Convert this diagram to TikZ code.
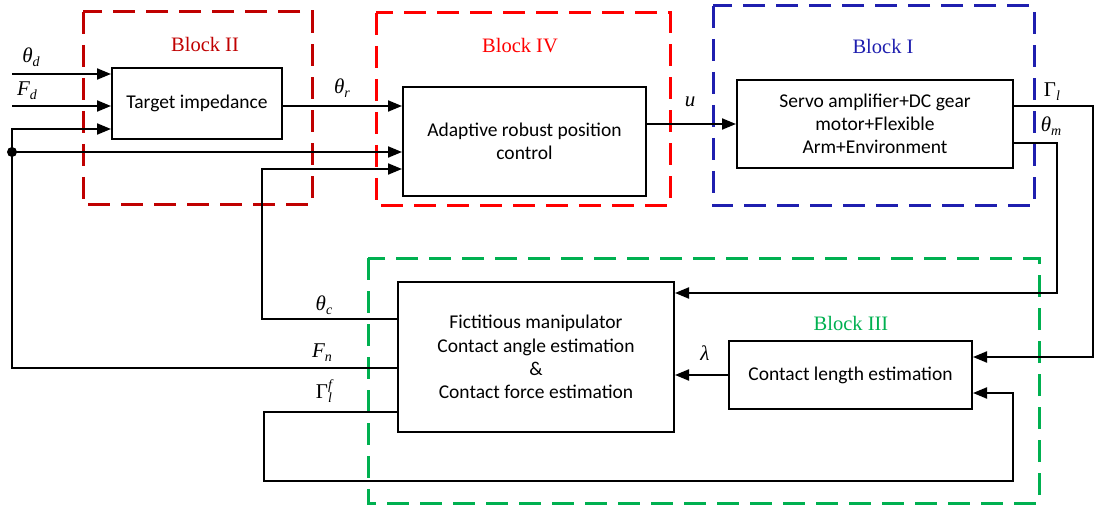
\documentclass[tikz,border=0pt]{standalone}
\usepackage{fontspec}
\setmainfont{Liberation Serif}
\newfontfamily\boxfont{Carlito}
\usetikzlibrary{arrows.meta}
\definecolor{blkII}{HTML}{C00000}
\definecolor{blkIV}{HTML}{FF0000}
\definecolor{blkI}{HTML}{1F1FAF}
\definecolor{blkIII}{HTML}{00B050}
\newcommand{\sym}[3]{{\fontsize{21}{21}\selectfont #1\rlap{\raisebox{0.45em}{\fontsize{14}{14}\selectfont\itshape #3}}\raisebox{-0.2em}{\fontsize{14}{14}\selectfont\itshape #2}}}
\begin{document}
\begin{tikzpicture}[x=1pt,y=-1pt,
  blk/.style={draw, line width=2pt, inner sep=0pt, align=center,
    font=\boxfont\fontsize{19.5}{23.3}\selectfont},
  sig/.style={line width=2pt},
  arr/.style={sig, -{Triangle[length=14pt,width=11pt]}},
  region/.style={line width=3pt, dash pattern=on 22pt off 11pt},
  lab/.style={inner sep=0pt},
  blab/.style={inner sep=0pt, font=\fontsize{20.5}{20.5}\selectfont}]
\useasboundingbox (0,0) rectangle (1096,508);

% dashed regions
\draw[region, blkII] (83,12) rectangle (312,205);
\draw[region, blkIV] (376,13) rectangle (670,206);
\draw[region, blkI] (713,6) rectangle (1034,206);
\draw[region, blkIII] (368,258) rectangle (1039,503);
\node[blab, text=blkII] (tII) at (205,44) {Block II};
\node[blab, text=blkIV] (tIV) at (520,46) {Block IV};
\node[blab, text=blkI] (tI) at (883,46) {Block I};
\node[blab, text=blkIII] (tIII) at (851,323) {Block III};

% blocks
\node[blk, minimum width=170pt, minimum height=71pt] (ti) at (197,103.5) {Target impedance};
\node[blk, minimum width=243pt, minimum height=109pt] (arp) at (524.5,141.5) {Adaptive robust position\\control};
\node[blk, minimum width=276pt, minimum height=88pt] (sv) at (875,124) {Servo amplifier+DC gear\\motor+Flexible\\Arm+Environment};
\node[blk, minimum width=276pt, minimum height=150pt] (fm) at (536,357) {Fictitious manipulator\\Contact angle estimation\\\&\\Contact force estimation};
\node[blk, minimum width=243pt, minimum height=68pt] (cl) at (850.5,375) {Contact length estimation};

% reference inputs
\coordinate (thd) at (12,74);
\coordinate (fd) at (12,106);
\draw[arr] (thd) -- (thd -| ti.west);
\draw[arr] (fd) -- (fd -| ti.west);

% feedback of the contact force
\coordinate (jn) at (12,152);
\coordinate (fbt) at (12,129);
\coordinate (fnb) at (12,368);
\fill (jn) circle (5pt);
\draw[arr] (jn) -- (fbt) -- (fbt -| ti.west);
\draw[arr] (jn) -- (jn -| arp.west);
\draw[sig] (jn) -- (fnb) -- (fnb -| fm.west);

% contact angle to the controller
\coordinate (thc) at (262,319);
\coordinate (thcu) at (262,169);
\draw[arr] (thc -| fm.west) -- (thc) -- (thcu) -- (thcu -| arp.west);

% reference trajectory and control signal
\coordinate (thr) at (300,106);
\draw[arr] (thr -| ti.east) -- (thr -| arp.west);
\coordinate (uu) at (690,124);
\draw[arr] (uu -| arp.east) -- (uu -| sv.west);

% plant outputs
\coordinate (gl1) at (1093,106);
\coordinate (gl2) at (1093,357);
\draw[arr] (gl1 -| sv.east) -- (gl1) -- (gl2) -- (gl2 -| cl.east);
\coordinate (thm1) at (1057,143);
\coordinate (thm2) at (1057,293);
\draw[arr] (thm1 -| sv.east) -- (thm1) -- (thm2) -- (thm2 -| fm.east);

% contact length
\coordinate (lm) at (700,375);
\draw[arr] (lm -| cl.west) -- (lm -| fm.east);

% estimated load torque loop
\coordinate (gf1) at (264,412);
\coordinate (gf2) at (264,481);
\coordinate (gf3) at (1013,481);
\coordinate (gf4) at (1013,393);
\draw[arr] (gf1 -| fm.west) -- (gf1) -- (gf2) -- (gf3) -- (gf4) -- (gf4 -| cl.east);

% signal labels
\node[lab] (lthd) at (31,57) {\sym{\itshape θ}{d}{}};
\node[lab] (lfd) at (27,91) {\sym{\itshape F}{d}{}};
\node[lab] (lthr) at (342,88) {\sym{\itshape θ}{r}{}};
\node[lab] (lu) at (690,104) {\sym{\itshape u}{}{}};
\node[lab] (lgl) at (1052,92) {\sym{Γ}{l}{}};
\node[lab] (lthm) at (1051,126) {\sym{\itshape θ}{m}{}};
\node[lab] (lthc) at (324,305) {\sym{\itshape θ}{c}{}};
\node[lab] (lfn) at (322,353) {\sym{\itshape F}{n}{}};
\node[lab] (lglf) at (324,391) {\sym{Γ}{l}{f}};
\node[lab] (llm) at (705,355) {\sym{\itshape λ}{}{}};
\end{tikzpicture}
\end{document}
